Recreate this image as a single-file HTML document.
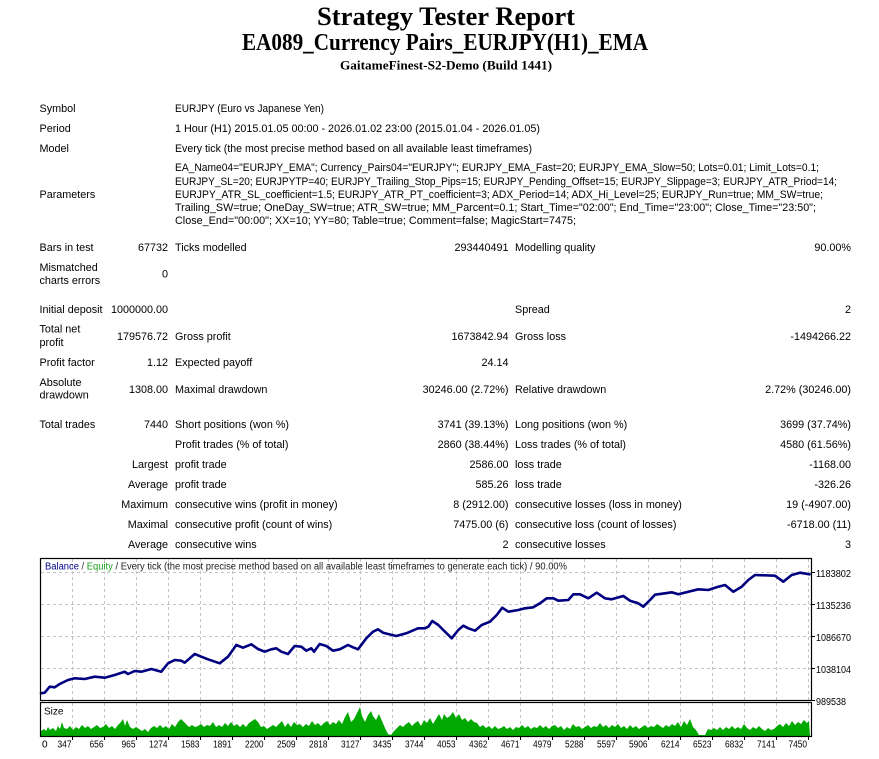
<!DOCTYPE html>
<html>
<head>
<meta charset="utf-8">
<style>
html,body{margin:0;padding:0;background:#fff;}
body{width:879px;height:759px;overflow:hidden;}
svg{display:block;}
.t{font-family:"Liberation Sans","DejaVu Sans",sans-serif;font-size:10.8px;fill:#000;}
.s{font-family:"Liberation Sans","DejaVu Sans",sans-serif;font-size:10px;fill:#000;}
.h{font-family:"Liberation Serif","DejaVu Serif",serif;font-weight:bold;fill:#000;}
</style>
</head>
<body>
<svg width="879" height="759" viewBox="0 0 879 759" xmlns="http://www.w3.org/2000/svg">
<rect x="0" y="0" width="879" height="759" fill="#fff"/>

<!-- Header -->
<text class="h" x="317" y="25" font-size="26" textLength="258" lengthAdjust="spacingAndGlyphs">Strategy Tester Report</text>
<text class="h" x="242" y="50" font-size="24" textLength="406" lengthAdjust="spacingAndGlyphs">EA089_Currency Pairs_EURJPY(H1)_EMA</text>
<text class="h" x="340" y="69.5" font-size="13" textLength="212" lengthAdjust="spacingAndGlyphs">GaitameFinest-S2-Demo (Build 1441)</text>

<!-- Table -->
<g class="t">
<text x="39.5" y="112">Symbol</text>
<text x="175" y="112" textLength="149" lengthAdjust="spacingAndGlyphs">EURJPY (Euro vs Japanese Yen)</text>
<text x="39.5" y="132">Period</text>
<text x="175" y="132" textLength="365" lengthAdjust="spacingAndGlyphs">1 Hour (H1) 2015.01.05 00:00 - 2026.01.02 23:00 (2015.01.04 - 2026.01.05)</text>
<text x="39.5" y="152">Model</text>
<text x="175" y="152" textLength="357" lengthAdjust="spacingAndGlyphs">Every tick (the most precise method based on all available least timeframes)</text>

<text x="39.5" y="198">Parameters</text>
<text x="175" y="171" textLength="644" lengthAdjust="spacingAndGlyphs">EA_Name04="EURJPY_EMA"; Currency_Pairs04="EURJPY"; EURJPY_EMA_Fast=20; EURJPY_EMA_Slow=50; Lots=0.01; Limit_Lots=0.1;</text>
<text x="175" y="185" textLength="662" lengthAdjust="spacingAndGlyphs">EURJPY_SL=20; EURJPYTP=40; EURJPY_Trailing_Stop_Pips=15; EURJPY_Pending_Offset=15; EURJPY_Slippage=3; EURJPY_ATR_Priod=14;</text>
<text x="175" y="198" textLength="648" lengthAdjust="spacingAndGlyphs">EURJPY_ATR_SL_coefficient=1.5; EURJPY_ATR_PT_coefficient=3; ADX_Period=14; ADX_Hi_Level=25; EURJPY_Run=true; MM_SW=true;</text>
<text x="175" y="211" textLength="641" lengthAdjust="spacingAndGlyphs">Trailing_SW=true; OneDay_SW=true; ATR_SW=true; MM_Parcent=0.1; Start_Time="02:00"; End_Time="23:00"; Close_Time="23:50";</text>
<text x="175" y="224" textLength="401" lengthAdjust="spacingAndGlyphs">Close_End="00:00"; XX=10; YY=80; Table=true; Comment=false; MagicStart=7475;</text>

<text x="39.5" y="251">Bars in test</text>
<text x="168" y="251" text-anchor="end">67732</text>
<text x="175" y="251">Ticks modelled</text>
<text x="508.5" y="251" text-anchor="end">293440491</text>
<text x="515" y="251">Modelling quality</text>
<text x="851" y="251" text-anchor="end">90.00%</text>

<text x="39.5" y="271">Mismatched</text>
<text x="39.5" y="284">charts errors</text>
<text x="168" y="277.5" text-anchor="end">0</text>

<text x="39.5" y="313">Initial deposit</text>
<text x="168" y="313" text-anchor="end">1000000.00</text>
<text x="515" y="313">Spread</text>
<text x="851" y="313" text-anchor="end">2</text>

<text x="39.5" y="332.5">Total net</text>
<text x="39.5" y="346">profit</text>
<text x="168" y="340" text-anchor="end">179576.72</text>
<text x="175" y="340">Gross profit</text>
<text x="508.5" y="340" text-anchor="end">1673842.94</text>
<text x="515" y="340">Gross loss</text>
<text x="851" y="340" text-anchor="end">-1494266.22</text>

<text x="39.5" y="366">Profit factor</text>
<text x="168" y="366" text-anchor="end">1.12</text>
<text x="175" y="366">Expected payoff</text>
<text x="508.5" y="366" text-anchor="end">24.14</text>

<text x="39.5" y="386">Absolute</text>
<text x="39.5" y="398.5">drawdown</text>
<text x="168" y="393" text-anchor="end">1308.00</text>
<text x="175" y="393">Maximal drawdown</text>
<text x="508.5" y="393" text-anchor="end">30246.00 (2.72%)</text>
<text x="515" y="393">Relative drawdown</text>
<text x="851" y="393" text-anchor="end">2.72% (30246.00)</text>

<text x="39.5" y="428">Total trades</text>
<text x="168" y="428" text-anchor="end">7440</text>
<text x="175" y="428">Short positions (won %)</text>
<text x="508.5" y="428" text-anchor="end">3741 (39.13%)</text>
<text x="515" y="428">Long positions (won %)</text>
<text x="851" y="428" text-anchor="end">3699 (37.74%)</text>

<text x="175" y="448">Profit trades (% of total)</text>
<text x="508.5" y="448" text-anchor="end">2860 (38.44%)</text>
<text x="515" y="448">Loss trades (% of total)</text>
<text x="851" y="448" text-anchor="end">4580 (61.56%)</text>

<text x="168" y="468" text-anchor="end">Largest</text>
<text x="175" y="468">profit trade</text>
<text x="508.5" y="468" text-anchor="end">2586.00</text>
<text x="515" y="468">loss trade</text>
<text x="851" y="468" text-anchor="end">-1168.00</text>

<text x="168" y="488" text-anchor="end">Average</text>
<text x="175" y="488">profit trade</text>
<text x="508.5" y="488" text-anchor="end">585.26</text>
<text x="515" y="488">loss trade</text>
<text x="851" y="488" text-anchor="end">-326.26</text>

<text x="168" y="508" text-anchor="end">Maximum</text>
<text x="175" y="508">consecutive wins (profit in money)</text>
<text x="508.5" y="508" text-anchor="end">8 (2912.00)</text>
<text x="515" y="508">consecutive losses (loss in money)</text>
<text x="851" y="508" text-anchor="end">19 (-4907.00)</text>

<text x="168" y="528" text-anchor="end">Maximal</text>
<text x="175" y="528">consecutive profit (count of wins)</text>
<text x="508.5" y="528" text-anchor="end">7475.00 (6)</text>
<text x="515" y="528">consecutive loss (count of losses)</text>
<text x="851" y="528" text-anchor="end">-6718.00 (11)</text>

<text x="168" y="548" text-anchor="end">Average</text>
<text x="175" y="548">consecutive wins</text>
<text x="508.5" y="548" text-anchor="end">2</text>
<text x="515" y="548">consecutive losses</text>
<text x="851" y="548" text-anchor="end">3</text>
</g>

<!-- Chart grid -->
<g stroke="#c4c4c4" stroke-width="1" stroke-dasharray="3,3" fill="none">
<path d="M72.5 559V701M104.5 559V701M136.5 559V701M168.5 559V701M200.5 559V701M232.5 559V701M264.5 559V701M296.5 559V701M328.5 559V701M360.5 559V701M392.5 559V701M424.5 559V701M456.5 559V701M488.5 559V701M520.5 559V701M552.5 559V701M584.5 559V701M616.5 559V701M648.5 559V701M680.5 559V701M712.5 559V701M744.5 559V701M776.5 559V701M808.5 559V701"/>
<path d="M72.5 703V736M104.5 703V736M136.5 703V736M168.5 703V736M200.5 703V736M232.5 703V736M264.5 703V736M296.5 703V736M328.5 703V736M360.5 703V736M392.5 703V736M424.5 703V736M456.5 703V736M488.5 703V736M520.5 703V736M552.5 703V736M584.5 703V736M616.5 703V736M648.5 703V736M680.5 703V736M712.5 703V736M744.5 703V736M776.5 703V736M808.5 703V736"/>
<path d="M41 572.5H811M41 604.5H811M41 636.5H811M41 668.5H811"/>
</g>

<!-- Chart title -->
<text class="s" x="45" y="569.5" textLength="522" lengthAdjust="spacingAndGlyphs"><tspan fill="#00008b">Balance</tspan><tspan fill="#333"> / </tspan><tspan fill="#1aa01a">Equity</tspan><tspan fill="#222"> / Every tick (the most precise method based on all available least timeframes to generate each tick) / 90.00%</tspan></text>

<!-- Volume bars -->
<polygon fill="#00a800" points="41,736 41,731 44,729 46,731 48,727 50,730 53,728 56,731 58,726 60,729 62,722 64,728 67,729 70,726 73,730 76,727 79,729 82,725 85,728 88,726 91,729 94,727 97,725 100,728 103,727 106,724 109,728 112,726 115,729 118,725 121,722 123,719 125,726 127,720 130,727 133,729 136,727 139,729 142,731 145,729 148,732 151,728 154,726 157,728 160,725 163,728 166,726 169,729 172,724 175,727 178,722 181,719 183,721 186,724 189,727 192,725 195,727 198,726 201,724 204,727 207,725 210,726 213,722 216,727 219,725 222,727 225,723 228,726 231,722 234,726 237,724 240,727 243,724 246,727 249,723 252,721 255,719 258,722 261,727 264,726 267,729 270,727 273,725 276,727 279,724 282,721 285,727 288,723 291,727 294,722 297,725 300,724 303,727 306,724 309,726 312,721 315,725 318,723 321,726 324,723 327,721 330,725 333,722 336,724 339,720 342,724 345,717 348,712 351,722 354,719 357,713 360,707 362,716 365,722 368,715 371,711 373,716 376,720 379,714 382,721 385,728 388,734 391,735 394,731 397,728 400,725 403,727 406,724 409,722 412,726 415,723 418,721 421,726 424,720 427,723 430,718 433,724 436,719 439,714 442,720 444,714 447,718 450,716 453,712 456,718 459,714 462,720 465,718 468,722 471,719 474,722 477,723 480,727 483,725 486,728 489,726 492,729 495,726 498,729 501,728 504,726 507,729 510,727 513,730 516,727 519,728 522,725 525,728 528,726 531,729 534,727 537,728 540,725 543,728 546,726 549,729 552,726 555,725 558,728 561,726 564,730 567,727 570,729 573,724 576,727 579,726 582,729 585,727 588,725 591,728 594,726 597,727 600,723 603,727 606,725 609,728 612,725 615,727 618,724 621,728 624,726 627,729 630,725 633,728 636,726 639,729 642,727 645,725 648,728 651,726 654,727 657,724 660,726 663,728 666,725 669,727 672,724 675,726 678,722 681,727 684,721 687,725 690,719 693,727 696,730 699,735 702,735 705,735 708,729 711,730 714,728 717,730 720,727 723,730 726,727 729,729 732,726 735,729 738,727 741,729 744,724 747,728 750,730 753,727 756,729 759,726 762,729 765,731 768,728 771,730 774,729 777,726 780,724 783,727 786,723 789,726 792,721 795,725 798,722 801,724 804,720 807,723 809,721 810,736"/>

<!-- Balance line -->
<polyline fill="none" stroke="#000080" stroke-width="2.6" stroke-linejoin="round" stroke-linecap="round" points="41,693.3 44.7,692.7 49.7,686.7 54.7,687.3 59.7,684 68,680 74.7,678.3 84.7,679 94.7,676.7 104.7,677.7 114.7,675 124.7,671.7 128,674 134.7,671 141.3,671.7 151.3,669 161.3,671.7 168,663.3 174.7,660 181.3,660.7 184.7,662.7 194.7,654 201.3,656.7 208,659.3 219.7,663.3 228,656.7 236.3,645 243,647.7 251.3,644.3 258,649 264.7,651.7 271.3,649.3 276.3,648.3 281.3,651.7 288,654 294.7,646 301.3,646.7 306.3,650.7 311.3,648.3 314,651.7 319.7,644 326.3,646 333,650.7 339.7,649.3 348,645 353,647.3 358,649.3 366.3,638.3 373,631.7 378,629.3 383,632.7 396.3,636 406.3,633.3 418,628.3 425,628.3 428.3,626.7 432.3,621 438.3,625 445,631.7 451.7,638.3 458.3,630 463.3,625.7 468.3,628.3 475,630.7 481.7,625 490,621.7 496.7,615 502.3,607.7 508.3,611.7 518.3,610 525,608.3 533.3,607.3 540,603.3 546.7,598.3 553.3,598.3 558.3,600.7 568.3,600 573.3,594.3 580,594.3 588.3,598.3 596.7,592.7 605,598.3 611.7,599.3 623.3,596 630,600.7 638.3,603.3 643.3,606.7 650,600 655,594.7 665,593.3 671.7,592.3 678.3,594.3 688.3,591.7 698.3,589.3 708.3,590 718.3,586.7 725,585 733.3,591.7 741.7,586.7 748.3,580 755,575 775,575.7 783.3,581.7 791.7,575 800,572.7 809.5,574.3"/>

<!-- Chart frames -->
<rect x="40.5" y="558.5" width="771" height="142" fill="none" stroke="#000" stroke-width="1.2"/>
<rect x="40.5" y="702.5" width="771" height="34" fill="none" stroke="#000" stroke-width="1.2"/>

<!-- Right axis ticks & labels -->
<path d="M811 572.5H815M811 604.5H815M811 636.5H815M811 668.5H815M811 700.5H815" stroke="#000" stroke-width="1"/>
<g class="s">
<text x="816" y="577" textLength="35" lengthAdjust="spacingAndGlyphs">1183802</text>
<text x="816" y="609" textLength="35" lengthAdjust="spacingAndGlyphs">1135236</text>
<text x="816" y="641" textLength="35" lengthAdjust="spacingAndGlyphs">1086670</text>
<text x="816" y="673" textLength="35" lengthAdjust="spacingAndGlyphs">1038104</text>
<text x="816" y="705" textLength="30" lengthAdjust="spacingAndGlyphs">989538</text>
</g>

<!-- Volume label -->
<text class="s" x="44" y="714.5" fill="#000">Size</text>

<!-- Bottom ticks -->
<path d="M72.5 737V740M104.5 737V740M136.5 737V740M168.5 737V740M200.5 737V740M232.5 737V740M264.5 737V740M296.5 737V740M328.5 737V740M360.5 737V740M392.5 737V740M424.5 737V740M456.5 737V740M488.5 737V740M520.5 737V740M552.5 737V740M584.5 737V740M616.5 737V740M648.5 737V740M680.5 737V740M712.5 737V740M744.5 737V740M776.5 737V740M808.5 737V740" stroke="#000" stroke-width="1"/>

<!-- X labels -->
<g class="s">
<text x="42" y="747.5">0</text>
<text x="71.5" y="747.5" text-anchor="end" textLength="14" lengthAdjust="spacingAndGlyphs">347</text>
<text x="103.5" y="747.5" text-anchor="end" textLength="14" lengthAdjust="spacingAndGlyphs">656</text>
<text x="135.5" y="747.5" text-anchor="end" textLength="14" lengthAdjust="spacingAndGlyphs">965</text>
<text x="167.5" y="747.5" text-anchor="end" textLength="18.5" lengthAdjust="spacingAndGlyphs">1274</text>
<text x="199.5" y="747.5" text-anchor="end" textLength="18.5" lengthAdjust="spacingAndGlyphs">1583</text>
<text x="231.5" y="747.5" text-anchor="end" textLength="18.5" lengthAdjust="spacingAndGlyphs">1891</text>
<text x="263.5" y="747.5" text-anchor="end" textLength="18.5" lengthAdjust="spacingAndGlyphs">2200</text>
<text x="295.5" y="747.5" text-anchor="end" textLength="18.5" lengthAdjust="spacingAndGlyphs">2509</text>
<text x="327.5" y="747.5" text-anchor="end" textLength="18.5" lengthAdjust="spacingAndGlyphs">2818</text>
<text x="359.5" y="747.5" text-anchor="end" textLength="18.5" lengthAdjust="spacingAndGlyphs">3127</text>
<text x="391.5" y="747.5" text-anchor="end" textLength="18.5" lengthAdjust="spacingAndGlyphs">3435</text>
<text x="423.5" y="747.5" text-anchor="end" textLength="18.5" lengthAdjust="spacingAndGlyphs">3744</text>
<text x="455.5" y="747.5" text-anchor="end" textLength="18.5" lengthAdjust="spacingAndGlyphs">4053</text>
<text x="487.5" y="747.5" text-anchor="end" textLength="18.5" lengthAdjust="spacingAndGlyphs">4362</text>
<text x="519.5" y="747.5" text-anchor="end" textLength="18.5" lengthAdjust="spacingAndGlyphs">4671</text>
<text x="551.5" y="747.5" text-anchor="end" textLength="18.5" lengthAdjust="spacingAndGlyphs">4979</text>
<text x="583.5" y="747.5" text-anchor="end" textLength="18.5" lengthAdjust="spacingAndGlyphs">5288</text>
<text x="615.5" y="747.5" text-anchor="end" textLength="18.5" lengthAdjust="spacingAndGlyphs">5597</text>
<text x="647.5" y="747.5" text-anchor="end" textLength="18.5" lengthAdjust="spacingAndGlyphs">5906</text>
<text x="679.5" y="747.5" text-anchor="end" textLength="18.5" lengthAdjust="spacingAndGlyphs">6214</text>
<text x="711.5" y="747.5" text-anchor="end" textLength="18.5" lengthAdjust="spacingAndGlyphs">6523</text>
<text x="743.5" y="747.5" text-anchor="end" textLength="18.5" lengthAdjust="spacingAndGlyphs">6832</text>
<text x="775.5" y="747.5" text-anchor="end" textLength="18.5" lengthAdjust="spacingAndGlyphs">7141</text>
<text x="807" y="747.5" text-anchor="end" textLength="18.5" lengthAdjust="spacingAndGlyphs">7450</text>
</g>
</svg>
</body>
</html>
